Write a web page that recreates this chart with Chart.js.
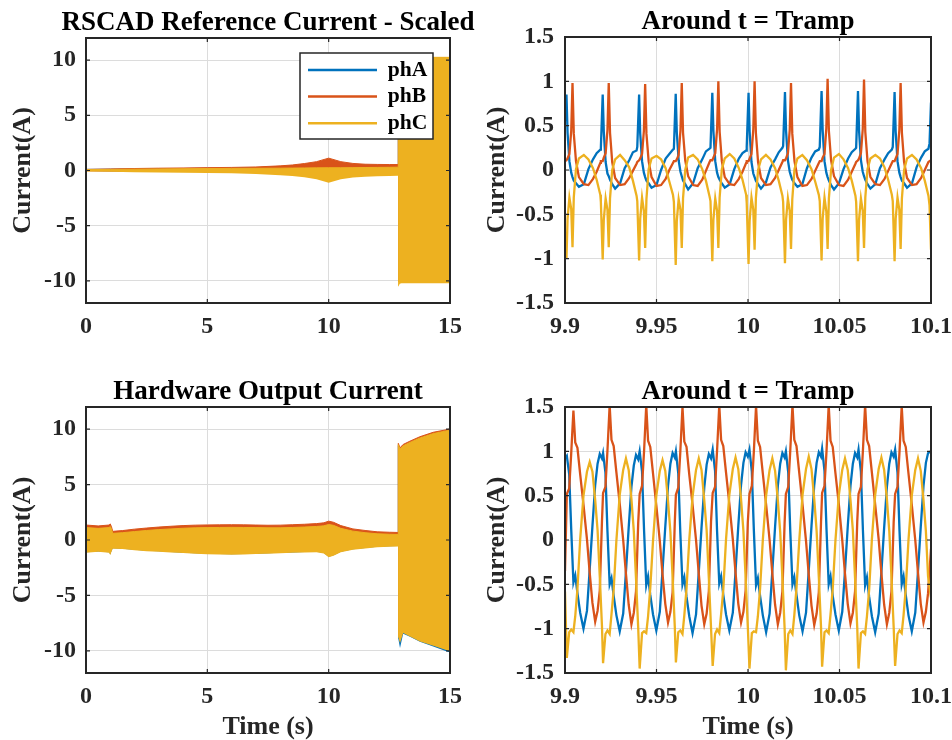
<!DOCTYPE html>
<html>
<head>
<meta charset="utf-8">
<script src="https://cdn.jsdelivr.net/npm/chart.js@4.4.1/dist/chart.umd.min.js"></script>
<style>
  html, body { margin: 0; padding: 0; background: #fff; overflow: hidden; width: 952px; height: 740px; }
  canvas { position: absolute; }
</style>
</head>
<body>
<canvas id="refWide" width="480" height="370" style="left:0px;top:0px;width:480px;height:370px"></canvas>
<canvas id="refZoom" width="500" height="370" style="left:476px;top:0px;width:500px;height:370px"></canvas>
<canvas id="hwWide" width="480" height="370" style="left:0px;top:370px;width:480px;height:370px"></canvas>
<canvas id="hwZoom" width="500" height="370" style="left:476px;top:370px;width:500px;height:370px"></canvas>
<script>
// ---- tick labels ----
const wideXTicks = [0, 5, 10, 15];
const wideYTicks = [-10, -5, 0, 5, 10];
const zoomXTicks = [9.9, 9.95, 10, 10.05, 10.1];
const zoomYTicks = [-1.5, -1, -0.5, 0, 0.5, 1, 1.5];

// ---- RSCAD reference, 0..15 s (envelope of each phase: upper / lower) ----
const tRef = [0, 1, 2, 3, 4, 5, 6, 7, 8, 8.5, 9, 9.5, 10, 10.5, 11, 11.5, 12, 12.5, 12.86, 12.87, 12.93, 13, 14, 15];
const refAhi = [0.10, 0.12, 0.14, 0.16, 0.18, 0.20, 0.22, 0.26, 0.34, 0.42, 0.53, 0.68, 0.88, 0.68, 0.55, 0.49, 0.47, 0.46, 0.45, 10.1, 10.1, 10.1, 10.1, 10.1];
const refAlo = [-0.05, -0.07, -0.08, -0.09, -0.10, -0.11, -0.12, -0.13, -0.15, -0.16, -0.17, -0.18, -0.20, -0.18, -0.17, -0.16, -0.16, -0.15, -0.15, -10.1, -10.1, -10.1, -10.1, -10.1];
const refBhi = [0.10, 0.14, 0.18, 0.21, 0.23, 0.26, 0.28, 0.32, 0.42, 0.50, 0.63, 0.80, 1.12, 0.80, 0.64, 0.57, 0.55, 0.54, 0.54, 10.2, 10.2, 10.2, 10.2, 10.2];
const refBlo = [-0.06, -0.08, -0.09, -0.10, -0.11, -0.12, -0.13, -0.14, -0.15, -0.16, -0.17, -0.18, -0.20, -0.18, -0.17, -0.16, -0.16, -0.15, -0.15, -10.1, -10.1, -10.1, -10.1, -10.1];
const refChi = [0.08, 0.10, 0.12, 0.14, 0.16, 0.18, 0.19, 0.20, 0.21, 0.22, 0.23, 0.24, 0.25, 0.25, 0.26, 0.27, 0.28, 0.29, 0.30, 10.25, 10.25, 10.25, 10.25, 10.25];
const refClo = [-0.10, -0.12, -0.15, -0.18, -0.20, -0.23, -0.26, -0.31, -0.42, -0.50, -0.62, -0.80, -1.12, -0.80, -0.64, -0.56, -0.52, -0.50, -0.48, -10.5, -10.25, -10.22, -10.2, -10.2];

// ---- Hardware output, 0..15 s (envelopes) ----
const tHw = [0, 0.5, 0.95, 1.0, 1.05, 1.1, 1.5, 2, 2.5, 3, 3.5, 4, 4.5, 5, 5.5, 6, 6.5, 7, 7.5, 8, 8.5, 9, 9.5, 9.8, 10, 10.2, 10.5, 11, 11.5, 12, 12.5, 12.86, 12.87, 12.94, 13.07, 13.35, 13.76, 14.31, 14.93, 15];
const hwAhi = [1.0, 0.95, 1.0, 1.1, 0.9, 0.55, 0.6, 0.7, 0.8, 0.88, 0.94, 1.0, 1.04, 1.06, 1.07, 1.08, 1.07, 1.06, 1.04, 1.04, 1.07, 1.1, 1.15, 1.2, 1.3, 1.22, 1.0, 0.76, 0.62, 0.52, 0.48, 0.46, 8.5, 8.1, 8.4, 8.7, 9.1, 9.5, 9.8, 9.85];
const hwAlo = [-1.1, -1.03, -1.1, -1.3, -1.0, -0.74, -0.78, -0.88, -0.98, -1.02, -1.08, -1.14, -1.2, -1.24, -1.26, -1.28, -1.26, -1.23, -1.2, -1.16, -1.12, -1.08, -1.06, -1.18, -1.5, -1.38, -1.06, -0.84, -0.72, -0.62, -0.56, -0.54, -8.9, -9.75, -8.45, -8.72, -9.18, -9.6, -10.1, -10.12];
const hwBhi = [1.35, 1.27, 1.35, 1.45, 1.2, 0.78, 0.85, 0.98, 1.08, 1.17, 1.24, 1.3, 1.34, 1.36, 1.37, 1.38, 1.37, 1.35, 1.33, 1.34, 1.38, 1.42, 1.48, 1.55, 1.7, 1.6, 1.3, 1.0, 0.86, 0.74, 0.7, 0.68, 8.72, 8.32, 8.62, 8.92, 9.32, 9.72, 9.98, 10.02];
const hwBlo = [-1.05, -1.0, -1.05, -1.25, -0.95, -0.7, -0.74, -0.84, -0.94, -0.98, -1.04, -1.1, -1.16, -1.2, -1.22, -1.24, -1.22, -1.19, -1.16, -1.12, -1.08, -1.04, -1.02, -1.12, -1.45, -1.32, -1.02, -0.8, -0.68, -0.58, -0.52, -0.5, -8.6, -9.1, -8.3, -8.6, -9.05, -9.45, -9.9, -9.95];
const hwChi = [1.12, 1.05, 1.12, 1.22, 1.0, 0.6, 0.66, 0.76, 0.86, 0.94, 1.0, 1.06, 1.1, 1.12, 1.13, 1.14, 1.13, 1.12, 1.1, 1.1, 1.13, 1.17, 1.22, 1.28, 1.4, 1.32, 1.05, 0.8, 0.66, 0.56, 0.52, 0.5, 8.6, 8.2, 8.5, 8.8, 9.2, 9.6, 9.88, 9.92];
const hwClo = [-1.14, -1.07, -1.15, -1.35, -1.05, -0.78, -0.82, -0.92, -1.02, -1.06, -1.12, -1.18, -1.24, -1.28, -1.3, -1.32, -1.3, -1.27, -1.24, -1.2, -1.16, -1.12, -1.1, -1.22, -1.56, -1.42, -1.1, -0.88, -0.76, -0.66, -0.6, -0.58, -8.8, -9.3, -8.4, -8.7, -9.15, -9.55, -10.0, -10.05];

// ---- RSCAD reference around t = Tramp ----
const tRefZoom = [
  9.9000, 9.9008, 9.9014, 9.9024, 9.9034, 9.9041, 9.9048, 9.9060, 9.9076, 9.9103, 9.9128, 9.9153, 9.9173, 9.9193,
  9.9196, 9.9206, 9.9212, 9.9222, 9.9232, 9.9239, 9.9246, 9.9258, 9.9274, 9.9301, 9.9326, 9.9351, 9.9371, 9.9391,
  9.9395, 9.9405, 9.9411, 9.9421, 9.9431, 9.9438, 9.9445, 9.9457, 9.9473, 9.9500, 9.9525, 9.9550, 9.9570, 9.9590,
  9.9595, 9.9605, 9.9611, 9.9621, 9.9631, 9.9638, 9.9645, 9.9657, 9.9673, 9.9700, 9.9725, 9.9750, 9.9770, 9.9790,
  9.9795, 9.9805, 9.9811, 9.9821, 9.9831, 9.9838, 9.9845, 9.9857, 9.9873, 9.9900, 9.9925, 9.9950, 9.9970, 9.9990,
  9.9993, 10.0003, 10.0009, 10.0019, 10.0029, 10.0036, 10.0043, 10.0055, 10.0071, 10.0098, 10.0123, 10.0148, 10.0168, 10.0188,
  10.0192, 10.0202, 10.0208, 10.0218, 10.0228, 10.0235, 10.0242, 10.0254, 10.0270, 10.0297, 10.0322, 10.0347, 10.0367, 10.0387,
  10.0392, 10.0402, 10.0408, 10.0418, 10.0428, 10.0435, 10.0442, 10.0454, 10.0470, 10.0497, 10.0522, 10.0547, 10.0567, 10.0587,
  10.0591, 10.0601, 10.0607, 10.0617, 10.0627, 10.0634, 10.0641, 10.0653, 10.0669, 10.0696, 10.0721, 10.0746, 10.0766, 10.0786,
  10.0791, 10.0801, 10.0807, 10.0817, 10.0827, 10.0834, 10.0841, 10.0853, 10.0869, 10.0896, 10.0921, 10.0946, 10.0966, 10.0986,
  10.0992, 10.1000
];
const refA = [
  0.56, 0.85, 0.42, 0.10, -0.03, -0.08, -0.12, -0.15, -0.19, -0.16, 0.01, 0.12, 0.19, 0.23,
  0.25, 0.85, 0.43, 0.09, -0.04, -0.07, -0.11, -0.16, -0.21, -0.15, 0.02, 0.11, 0.20, 0.22,
  0.26, 0.85, 0.41, 0.10, -0.03, -0.08, -0.12, -0.15, -0.20, -0.17, 0.00, 0.13, 0.18, 0.23,
  0.24, 0.86, 0.42, 0.11, -0.02, -0.07, -0.12, -0.16, -0.22, -0.15, 0.02, 0.12, 0.21, 0.24,
  0.25, 0.87, 0.44, 0.10, -0.03, -0.08, -0.11, -0.15, -0.20, -0.16, 0.01, 0.13, 0.19, 0.22,
  0.26, 0.87, 0.43, 0.09, -0.04, -0.08, -0.12, -0.16, -0.21, -0.14, 0.03, 0.12, 0.20, 0.25,
  0.27, 0.88, 0.44, 0.11, -0.02, -0.07, -0.11, -0.15, -0.19, -0.16, 0.02, 0.14, 0.21, 0.23,
  0.26, 0.89, 0.45, 0.10, -0.03, -0.08, -0.12, -0.17, -0.22, -0.15, 0.01, 0.13, 0.20, 0.24,
  0.25, 0.89, 0.44, 0.11, -0.02, -0.07, -0.11, -0.16, -0.21, -0.16, 0.02, 0.12, 0.19, 0.23,
  0.26, 0.88, 0.43, 0.10, -0.03, -0.08, -0.12, -0.15, -0.20, -0.15, 0.03, 0.14, 0.21, 0.24,
  0.30, 0.76
];
const refB = [
  0.12, 0.11, 0.13, 0.18, 0.44, 0.98, 0.41, 0.10, -0.08, -0.16, -0.17, -0.10, -0.02, 0.08,
  0.10, 0.10, 0.14, 0.19, 0.45, 0.98, 0.42, 0.09, -0.09, -0.17, -0.16, -0.09, -0.01, 0.07,
  0.09, 0.11, 0.13, 0.18, 0.44, 0.97, 0.41, 0.10, -0.08, -0.18, -0.17, -0.10, 0.00, 0.08,
  0.10, 0.10, 0.12, 0.17, 0.45, 0.98, 0.42, 0.11, -0.07, -0.17, -0.18, -0.11, -0.01, 0.09,
  0.11, 0.11, 0.14, 0.19, 0.46, 1.00, 0.43, 0.10, -0.08, -0.16, -0.17, -0.10, -0.02, 0.08,
  0.10, 0.10, 0.13, 0.18, 0.46, 1.00, 0.42, 0.09, -0.09, -0.17, -0.16, -0.09, 0.00, 0.09,
  0.11, 0.11, 0.13, 0.19, 0.45, 0.98, 0.41, 0.10, -0.08, -0.18, -0.17, -0.10, -0.01, 0.08,
  0.10, 0.10, 0.14, 0.18, 0.47, 1.03, 0.44, 0.11, -0.07, -0.17, -0.18, -0.11, -0.02, 0.07,
  0.09, 0.11, 0.13, 0.19, 0.46, 1.02, 0.43, 0.10, -0.08, -0.16, -0.17, -0.10, -0.01, 0.08,
  0.10, 0.10, 0.13, 0.18, 0.45, 0.98, 0.42, 0.09, -0.09, -0.17, -0.16, -0.09, 0.00, 0.09,
  0.10, 0.11
];
const refC = [
  -0.70, -1.00, -0.55, -0.31, -0.44, -0.87, -0.31, 0.01, 0.13, 0.17, 0.12, 0.02, -0.11, -0.28,
  -0.36, -1.01, -0.56, -0.32, -0.45, -0.87, -0.32, 0.00, 0.12, 0.17, 0.11, 0.03, -0.12, -0.29,
  -0.35, -1.02, -0.55, -0.31, -0.46, -0.88, -0.33, 0.01, 0.13, 0.16, 0.12, 0.02, -0.13, -0.28,
  -0.36, -1.07, -0.57, -0.33, -0.45, -0.88, -0.32, 0.00, 0.14, 0.17, 0.12, 0.01, -0.12, -0.30,
  -0.35, -1.03, -0.56, -0.32, -0.46, -0.88, -0.31, 0.01, 0.13, 0.18, 0.13, 0.02, -0.11, -0.28,
  -0.37, -1.06, -0.57, -0.31, -0.45, -0.90, -0.32, 0.00, 0.12, 0.17, 0.12, 0.02, -0.12, -0.29,
  -0.36, -1.05, -0.56, -0.32, -0.46, -0.89, -0.33, 0.01, 0.13, 0.17, 0.11, 0.01, -0.13, -0.28,
  -0.35, -1.02, -0.55, -0.31, -0.47, -0.89, -0.32, 0.00, 0.14, 0.18, 0.12, 0.02, -0.12, -0.29,
  -0.36, -1.03, -0.56, -0.32, -0.46, -0.88, -0.31, 0.01, 0.13, 0.17, 0.13, 0.03, -0.11, -0.28,
  -0.35, -1.03, -0.55, -0.31, -0.45, -0.89, -0.32, 0.00, 0.13, 0.17, 0.12, 0.02, -0.12, -0.29,
  -0.40, -0.90
];

// ---- Hardware output around t = Tramp ----
const tHwZoom = [
  9.9000,
  9.9010, 9.9023, 9.9034, 9.9046, 9.9056, 9.9068, 9.9083, 9.9101, 9.9120, 9.9135, 9.9150, 9.9165, 9.9178, 9.9190, 9.9202,
  9.9208, 9.9221, 9.9232, 9.9244, 9.9254, 9.9266, 9.9281, 9.9299, 9.9318, 9.9333, 9.9348, 9.9363, 9.9376, 9.9388, 9.9400,
  9.9408, 9.9421, 9.9432, 9.9444, 9.9454, 9.9466, 9.9481, 9.9499, 9.9518, 9.9533, 9.9548, 9.9563, 9.9576, 9.9588, 9.9600,
  9.9606, 9.9619, 9.9630, 9.9642, 9.9652, 9.9664, 9.9679, 9.9697, 9.9716, 9.9731, 9.9746, 9.9761, 9.9774, 9.9786, 9.9798,
  9.9807, 9.9820, 9.9831, 9.9843, 9.9853, 9.9865, 9.9880, 9.9898, 9.9917, 9.9932, 9.9947, 9.9962, 9.9975, 9.9987, 9.9999,
  10.0008, 10.0021, 10.0032, 10.0044, 10.0054, 10.0066, 10.0081, 10.0099, 10.0118, 10.0133, 10.0148, 10.0163, 10.0176, 10.0188, 10.0200,
  10.0207, 10.0220, 10.0231, 10.0243, 10.0253, 10.0265, 10.0280, 10.0298, 10.0317, 10.0332, 10.0347, 10.0362, 10.0375, 10.0387, 10.0399,
  10.0405, 10.0418, 10.0429, 10.0441, 10.0451, 10.0463, 10.0478, 10.0496, 10.0515, 10.0530, 10.0545, 10.0560, 10.0573, 10.0585, 10.0597,
  10.0604, 10.0617, 10.0628, 10.0640, 10.0650, 10.0662, 10.0677, 10.0695, 10.0714, 10.0729, 10.0744, 10.0759, 10.0772, 10.0784, 10.0796,
  10.0804, 10.0817, 10.0828, 10.0840, 10.0850, 10.0862, 10.0877, 10.0895, 10.0914, 10.0929, 10.0944, 10.0959, 10.0972, 10.0984,
  10.1000
];
const hwA = [
  0.92,
  0.95, 0.74, 0.12, -0.48, -0.40, -0.60, -0.82, -1.00, -0.80, -0.33, 0.16, 0.62, 0.86, 0.97, 0.92,
  0.98, 0.76, 0.10, -0.50, -0.43, -0.63, -0.85, -1.03, -0.83, -0.36, 0.14, 0.60, 0.84, 0.96, 0.91,
  1.00, 0.77, 0.11, -0.51, -0.41, -0.62, -0.84, -1.02, -0.81, -0.34, 0.15, 0.61, 0.86, 0.98, 0.93,
  1.00, 0.75, 0.09, -0.50, -0.42, -0.64, -0.86, -1.05, -0.84, -0.36, 0.14, 0.59, 0.85, 0.97, 0.92,
  1.02, 0.78, 0.10, -0.49, -0.41, -0.62, -0.84, -1.02, -0.82, -0.35, 0.16, 0.62, 0.87, 0.99, 0.94,
  1.02, 0.77, 0.11, -0.51, -0.43, -0.63, -0.85, -1.04, -0.83, -0.35, 0.15, 0.61, 0.86, 0.98, 0.93,
  1.00, 0.76, 0.10, -0.50, -0.42, -0.62, -0.85, -1.03, -0.82, -0.34, 0.16, 0.62, 0.87, 0.99, 0.94,
  1.03, 0.78, 0.12, -0.50, -0.41, -0.63, -0.84, -1.02, -0.81, -0.35, 0.15, 0.61, 0.86, 0.98, 0.93,
  1.02, 0.77, 0.11, -0.51, -0.42, -0.64, -0.86, -1.04, -0.83, -0.36, 0.14, 0.60, 0.86, 0.99, 0.94,
  1.02, 0.76, 0.10, -0.50, -0.41, -0.62, -0.85, -1.03, -0.82, -0.35, 0.15, 0.61, 0.87, 0.98,
  1.00
];
const hwB = [
  -0.35,
  0.52, 0.58, 0.98, 1.46, 1.10, 1.04, 0.74, 0.40, 0.01, -0.37, -0.71, -0.92, -0.80, -0.57, 0.21,
  0.53, 0.60, 1.01, 1.52, 1.13, 1.06, 0.76, 0.41, 0.00, -0.38, -0.73, -0.95, -0.82, -0.58, 0.19,
  0.52, 0.61, 1.00, 1.52, 1.12, 1.05, 0.75, 0.39, -0.01, -0.39, -0.72, -0.93, -0.81, -0.59, 0.20,
  0.51, 0.59, 0.99, 1.50, 1.11, 1.05, 0.74, 0.40, 0.00, -0.38, -0.74, -0.95, -0.83, -0.58, 0.21,
  0.53, 0.60, 1.01, 1.52, 1.13, 1.06, 0.76, 0.41, 0.01, -0.37, -0.72, -0.93, -0.81, -0.57, 0.20,
  0.52, 0.61, 1.00, 1.51, 1.12, 1.05, 0.75, 0.40, 0.00, -0.38, -0.73, -0.95, -0.82, -0.58, 0.19,
  0.52, 0.60, 1.01, 1.52, 1.13, 1.06, 0.76, 0.40, -0.01, -0.39, -0.74, -0.96, -0.83, -0.59, 0.20,
  0.53, 0.61, 1.00, 1.52, 1.12, 1.05, 0.75, 0.41, 0.00, -0.38, -0.72, -0.94, -0.82, -0.58, 0.21,
  0.52, 0.60, 1.01, 1.52, 1.13, 1.06, 0.76, 0.40, 0.01, -0.38, -0.73, -0.95, -0.82, -0.58, 0.20,
  0.52, 0.60, 1.00, 1.51, 1.12, 1.05, 0.75, 0.40, 0.00, -0.37, -0.72, -0.93, -0.81, -0.60,
  -0.10
];
const hwC = [
  -0.58,
  -1.33, -1.04, -1.01, -1.04, -0.86, -0.55, 0.01, 0.50, 0.77, 0.88, 0.77, 0.45, 0.11, -0.41, -0.97,
  -1.39, -1.06, -1.02, -1.06, -0.84, -0.56, 0.00, 0.51, 0.79, 0.92, 0.79, 0.46, 0.10, -0.43, -0.99,
  -1.45, -1.05, -1.03, -1.05, -0.86, -0.54, -0.01, 0.50, 0.78, 0.90, 0.78, 0.44, 0.09, -0.42, -0.98,
  -1.38, -1.04, -1.02, -1.06, -0.85, -0.55, 0.00, 0.49, 0.79, 0.92, 0.79, 0.45, 0.11, -0.43, -0.99,
  -1.42, -1.06, -1.01, -1.05, -0.84, -0.56, 0.01, 0.51, 0.80, 0.93, 0.80, 0.46, 0.10, -0.42, -0.98,
  -1.45, -1.05, -1.03, -1.04, -0.86, -0.55, 0.00, 0.50, 0.79, 0.92, 0.78, 0.45, 0.09, -0.43, -0.99,
  -1.47, -1.06, -1.02, -1.06, -0.85, -0.54, -0.01, 0.51, 0.80, 0.94, 0.80, 0.46, 0.10, -0.42, -0.98,
  -1.43, -1.04, -1.02, -1.05, -0.84, -0.55, 0.00, 0.50, 0.79, 0.92, 0.79, 0.45, 0.11, -0.43, -0.99,
  -1.45, -1.05, -1.03, -1.06, -0.86, -0.56, 0.01, 0.51, 0.80, 0.93, 0.79, 0.46, 0.10, -0.42, -0.98,
  -1.42, -1.06, -1.02, -1.05, -0.85, -0.55, 0.00, 0.50, 0.79, 0.92, 0.78, 0.45, 0.10, -0.41,
  -0.65
];

// ---- styling ----
const FONT = "'Liberation Serif', 'Times New Roman', serif";
const INK = '#262626';
const GRID = '#dcdcdc';
const COLORS = ['#0072BD', '#D95319', '#EDB120'];
const PHASES = ['phA', 'phB', 'phC'];
Chart.defaults.font.family = FONT;

const bold = (size, extra) => Object.assign({family: FONT, size: size, weight: 'bold'}, extra || {});
const toPts = (ts, vs) => ts.map((t, i) => ({x: t, y: vs[i]}));

// MATLAB-like box, inward ticks, legend frame, and title centred over the axes
const matlabFrame = {
  id: 'matlabFrame',
  beforeUpdate(chart) {
    const lg = chart.legend;
    if (lg && lg.options && lg.options.display) {
      lg._layers = () => [{z: 1, draw: (ca) => lg.draw(ca)}];
    }
  },
  afterLayout(chart) {
    const a = chart.chartArea;
    const t = chart.titleBlock;
    if (t) {
      const cx = (a.left + a.right) / 2;
      t.left = cx - 300; t.right = cx + 300; t.width = 600;
    }
    const lg = chart.legend;
    if (lg && lg.options && lg.options.display) {
      lg.left = a.right - 147; lg.top = a.top + 16.2;
      lg.right = lg.left + 145; lg.bottom = lg.top + 100;
    }
  },
  afterDatasetsDraw(chart) {
    const {ctx, chartArea: a, scales} = chart;
    ctx.save();
    ctx.strokeStyle = INK;
    ctx.lineWidth = 1.2;
    ctx.beginPath();
    scales.x.ticks.forEach(tk => {
      const px = scales.x.getPixelForValue(tk.value);
      ctx.moveTo(px, a.bottom); ctx.lineTo(px, a.bottom - 4);
      ctx.moveTo(px, a.top); ctx.lineTo(px, a.top + 4);
    });
    scales.y.ticks.forEach(tk => {
      const py = scales.y.getPixelForValue(tk.value);
      ctx.moveTo(a.left, py); ctx.lineTo(a.left + 4, py);
      ctx.moveTo(a.right, py); ctx.lineTo(a.right - 4, py);
    });
    ctx.stroke();
    ctx.lineWidth = 2;
    ctx.strokeRect(a.left, a.top, a.right - a.left, a.bottom - a.top);
    const lg = chart.legend;
    if (lg && lg.options && lg.options.display) {
      ctx.fillStyle = '#fff';
      ctx.fillRect(lg.left - 3, lg.top - 1.2, 133, 86);
      ctx.lineWidth = 1.5;
      ctx.strokeRect(lg.left - 3, lg.top - 1.2, 133, 86);
    }
    ctx.restore();
  }
};

function bandSets(t, his, los) {
  const sets = [];
  for (let k = 0; k < 3; k++) {
    sets.push({label: '', data: toPts(t, los[k]), borderWidth: 0, borderColor: 'rgba(0,0,0,0)',
      pointRadius: 0, fill: false, order: 3 - k});
    sets.push({label: PHASES[k], data: toPts(t, his[k]), borderWidth: 1, borderColor: COLORS[k],
      backgroundColor: COLORS[k], pointRadius: 0, fill: '-1', order: 3 - k});
  }
  return sets;
}

function lineSets(t, series) {
  return series.map((v, k) => ({label: PHASES[k], data: toPts(t, v), borderColor: COLORS[k],
    backgroundColor: COLORS[k], borderWidth: 2.3, pointRadius: 0, fill: false, tension: 0, order: 3 - k}));
}

function makeChart(id, o) {
  return new Chart(document.getElementById(id), {
    type: 'line',
    data: {datasets: o.datasets},
    plugins: [matlabFrame],
    options: {
      responsive: false,
      animation: false,
      events: [],
      layout: {padding: {left: 0, top: 0, right: o.padRight, bottom: 0}},
      plugins: {
        title: {display: true, text: o.title, color: '#000', font: bold(27, {lineHeight: 1.05}),
          padding: {top: o.titleTop, bottom: o.titleBottom}},
        legend: o.legend ? {
          display: true, position: 'chartArea', align: 'start',
          labels: {
            boxWidth: 69, boxHeight: 2.5, padding: 5, color: '#000', font: bold(21.6),
            filter: item => item.text !== '',
            sort: (p, q) => p.datasetIndex - q.datasetIndex,
            generateLabels: chart => Chart.defaults.plugins.legend.labels.generateLabels(chart)
              .map(l => Object.assign(l, {lineWidth: 0}))
          }
        } : {display: false},
        tooltip: {enabled: false}
      },
      scales: {
        x: {
          type: 'linear', min: o.xMin, max: o.xMax,
          afterBuildTicks: ax => { ax.ticks = o.xTicks.map(v => ({value: v})); },
          afterFit: ax => { ax.height = 67; },
          grid: {color: GRID, lineWidth: 1, drawTicks: false},
          border: {display: false},
          ticks: {font: bold(24), color: INK, padding: 9, maxRotation: 0, autoSkip: false,
            callback: v => String(v)},
          title: o.xTitle ? {display: true, text: o.xTitle, color: INK,
            font: bold(26, {lineHeight: 1}), padding: {top: 0, bottom: 0}} : {display: false}
        },
        y: {
          type: 'linear', min: o.yMin, max: o.yMax,
          afterBuildTicks: ax => { ax.ticks = o.yTicks.map(v => ({value: v})); },
          afterFit: ax => { ax.width = o.yWidth; },
          grid: {color: GRID, lineWidth: 1, drawTicks: false},
          border: {display: false},
          ticks: {font: bold(24), color: INK, padding: o.yPad, callback: v => String(v)},
          title: {display: true, text: 'Current(A)', color: INK, font: bold(26),
            padding: {top: o.yTitlePad, bottom: 0}}
        }
      }
    }
  });
}

makeChart('refWide', {
  title: 'RSCAD Reference Current - Scaled', titleTop: 8.4, titleBottom: 1.25, legend: true,
  datasets: bandSets(tRef, [refAhi, refBhi, refChi], [refAlo, refBlo, refClo]),
  xMin: 0, xMax: 15, xTicks: wideXTicks, yMin: -12, yMax: 12, yTicks: wideYTicks,
  yWidth: 86, yPad: 10, yTitlePad: 8, padRight: 30
});

makeChart('refZoom', {
  title: 'Around t = Tramp', titleTop: 7.4, titleBottom: 1.25, legend: false,
  datasets: lineSets(tRefZoom, [refA, refB, refC]),
  xMin: 9.9, xMax: 10.1, xTicks: zoomXTicks, yMin: -1.5, yMax: 1.5, yTicks: zoomYTicks,
  yWidth: 89, yPad: 11, yTitlePad: 6, padRight: 45
});

makeChart('hwWide', {
  title: 'Hardware Output Current', titleTop: 7.4, titleBottom: 1.25, legend: false,
  datasets: bandSets(tHw, [hwAhi, hwBhi, hwChi], [hwAlo, hwBlo, hwClo]),
  xMin: 0, xMax: 15, xTicks: wideXTicks, yMin: -12, yMax: 12, yTicks: wideYTicks,
  yWidth: 86, yPad: 10, yTitlePad: 8, padRight: 30, xTitle: 'Time (s)'
});

makeChart('hwZoom', {
  title: 'Around t = Tramp', titleTop: 7.4, titleBottom: 1.25, legend: false,
  datasets: lineSets(tHwZoom, [hwA, hwB, hwC]),
  xMin: 9.9, xMax: 10.1, xTicks: zoomXTicks, yMin: -1.5, yMax: 1.5, yTicks: zoomYTicks,
  yWidth: 89, yPad: 11, yTitlePad: 6, padRight: 45, xTitle: 'Time (s)'
});
</script>
</body>
</html>
